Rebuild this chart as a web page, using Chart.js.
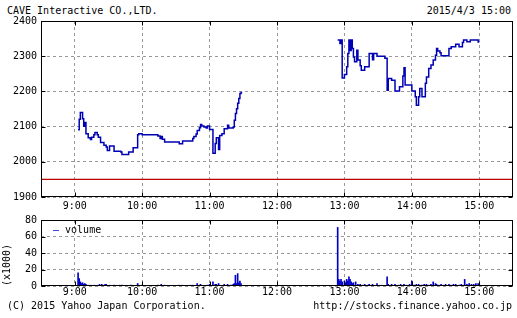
<!DOCTYPE html>
<html><head><meta charset="utf-8">
<script src="https://cdn.jsdelivr.net/npm/chart.js@4"></script>
<style>
body{margin:0;background:#fff;width:517px;height:318px;overflow:hidden;position:relative;font-family:"DejaVu Sans Mono",monospace;font-size:10px;color:#000}
.t{position:absolute;line-height:12px;white-space:pre}
canvas{position:absolute;left:0}
</style></head><body>
<div class="t" style="left:7px;top:5px">CAVE Interactive CO.,LTD.</div>
<div class="t" style="right:6px;top:5px">2015/4/3 15:00</div>
<canvas id="c1" width="517" height="212" style="top:0"></canvas>
<canvas id="c2" width="517" height="100" style="top:205px"></canvas>
<div class="t" style="left:53px;top:224px"><span style="color:#0000cc">—</span> volume</div>
<div class="t" style="left:7px;top:300px">(C) 2015 Yahoo Japan Corporation.</div>
<div class="t" style="right:5px;top:300px">http://stocks.finance.yahoo.co.jp</div>
<script>
const priceTimes = ["9:03","9:04","9:05","9:07","9:08","9:09","9:10","9:12","9:14","9:15","9:17","9:18","9:20","9:21","9:23","9:26","9:28","9:29","9:31","9:35","9:41","9:42","9:48","9:52","9:56","9:57","10:00","10:14","10:16","10:17","10:18","10:20","10:33","10:36","10:45","10:46","10:48","10:49","10:51","10:52","10:53","10:55","10:57","10:58","11:00","11:03","11:05","11:06","11:08","11:09","11:11","11:13","11:16","11:17","11:21","11:22","11:23","11:24","11:25","11:26","11:27","11:28","11:29",
"12:00",
"12:54","12:56","12:57","12:58","13:00","13:02","13:03","13:04","13:05","13:06","13:07","13:08","13:09","13:11","13:12","13:14","13:15","13:18","13:22","13:25","13:26","13:29","13:36","13:38","13:39","13:42","13:45","13:49","13:52","13:53","13:54","14:00","14:03","14:04","14:06","14:07","14:09","14:12","14:13","14:15","14:17","14:19","14:21","14:22","14:23","14:25","14:26","14:33","14:35","14:39","14:42","14:45","14:46","14:49","14:52","14:59","15:00"];
const priceValues = [2091,2121,2140,2122,2101,2112,2080,2068,2063,2070,2077,2083,2077,2070,2055,2047,2042,2032,2045,2030,2028,2021,2028,2040,2077,2080,2077,2073,2066,2072,2064,2056,2051,2059,2066,2072,2079,2089,2097,2106,2102,2099,2096,2102,2092,2024,2052,2068,2035,2075,2080,2094,2104,2096,2099,2118,2137,2151,2166,2180,2194,2197,2197,
null,
2346,2336,2346,2238,2248,2270,2308,2346,2316,2346,2322,2298,2284,2317,2289,2273,2260,2270,2308,2290,2308,2300,2294,2203,2237,2232,2201,2213,2244,2267,2218,2201,2185,2161,2185,2208,2185,2223,2241,2265,2275,2289,2303,2322,2315,2310,2301,2322,2327,2334,2327,2339,2346,2341,2346,2340,2340];
const prevClose = 1950;
const volTimes = ["9:03","9:04","9:05","9:06","9:07","9:08","9:09","9:10","9:12","9:14","9:17","9:22","9:24","9:25","9:27","9:28","9:31","9:35","9:40","9:42","9:50","9:56","9:57","10:00","10:14","10:17","10:20","10:33","10:36","10:43","10:45","10:49","10:51","10:52","10:58","11:00","11:03","11:05","11:06","11:08","11:09","11:13","11:16","11:19","11:21","11:22","11:23","11:24","11:25","11:26","11:27","11:28",
"12:54","12:55","12:56","12:57","12:58","13:00","13:01","13:02","13:03","13:04","13:05","13:06","13:07","13:08","13:10","13:12","13:14","13:16","13:18","13:21","13:22","13:25","13:29","13:33","13:38","13:39","13:42","13:45","13:48","13:50","13:53","13:55","13:58","14:00","14:02","14:04","14:06","14:09","14:11","14:13","14:15","14:17","14:19","14:21","14:22","14:24","14:26","14:28","14:30","14:33","14:35","14:37","14:39","14:42","14:44","14:47","14:49","14:51","14:53","14:55","14:57","14:59","15:00"];
const volValues = [16,9,5,3,4,2,3,2,1,1,1,2,2,1,2,2,1,1,1,1,1,3,1,1,1,2,1,1,1,1,1,3,1,2,1,2,5,2,2,3,1,2,2,1,2,3,13,3,15,4,6,3,
71,8,6,8,5,6,4,8,6,11,8,5,3,4,5,2,2,1,2,1,2,2,3,1,11,2,2,2,1,2,2,1,2,6,1,2,2,1,2,2,1,2,5,3,2,1,2,1,2,2,1,2,2,1,2,8,2,3,2,2,3,3,2];
const hourTicks = ["9:00","10:00","11:00","12:00","13:00","14:00","15:00"];
const priceTicks = [1900,2000,2100,2200,2300,2400];
const volTicks = [0,20,40,60,80];

function toMin(s){const p=s.split(':').map(Number);return p[0]*60+p[1];}
const hourVals = hourTicks.map(toMin);
const font = {family:'DejaVu Sans Mono', size:10};
const fmt = v => Math.floor(v/60)+':'+String(v%60).padStart(2,'0');
const plain = v => String(v);

const frame = {id:'frame', afterDraw(chart){
  const {ctx, chartArea:a, scales} = chart;
  ctx.save(); ctx.strokeStyle='#000'; ctx.lineWidth=1; ctx.setLineDash([]);
  const L=Math.round(a.left)+0.5, R=Math.round(a.right)-0.5, T=Math.round(a.top)+0.5, B=Math.round(a.bottom)-0.5;
  ctx.strokeRect(L,T,R-L,B-T);
  ctx.beginPath();
  scales.x.ticks.forEach(t=>{const px=Math.round(scales.x.getPixelForValue(t.value))+0.5;ctx.moveTo(px,T);ctx.lineTo(px,T+4);ctx.moveTo(px,B);ctx.lineTo(px,B-4);});
  scales.y.ticks.forEach(t=>{const py=Math.round(scales.y.getPixelForValue(t.value))+0.5;ctx.moveTo(L,py);ctx.lineTo(L+4,py);ctx.moveTo(R,py);ctx.lineTo(R-4,py);});
  ctx.stroke(); ctx.restore();
}};

function xScale(h, pad){
  return {type:'linear', min:510, max:930, offset:false,
    afterBuildTicks:s=>{s.ticks=hourVals.map(v=>({value:v}));},
    afterFit:s=>{s.height=h;},
    ticks:{callback:fmt, font, color:'#000', padding:pad, maxRotation:0, autoSkip:false},
    grid:{color:'#999', drawTicks:false, lineWidth:1, offset:false},
    border:{display:false, dash:[3,3]}};
}

new Chart(document.getElementById('c1'), {
  type:'line',
  data:{datasets:[
    {data:priceTimes.map((t,i)=>({x:toMin(t), y:priceValues[i]})), borderColor:'#0000b4', borderWidth:1.5, stepped:true, pointRadius:0, spanGaps:false, fill:false},
    {data:[{x:510,y:prevClose},{x:930,y:prevClose}], borderColor:'#c00000', borderWidth:1.2, pointRadius:0, fill:false}
  ]},
  options:{responsive:false, animation:false, devicePixelRatio:1,
    layout:{padding:{top:21,right:4,left:0,bottom:0}},
    plugins:{legend:{display:false}, tooltip:{enabled:false}},
    scales:{
      x:xScale(15,3),
      y:{min:1900,max:2400,
        afterBuildTicks:s=>{s.ticks=priceTicks.map(v=>({value:v}));},
        afterFit:s=>{s.width=41;},
        ticks:{font, color:'#000', padding:4, callback:plain},
        grid:{color:'#999', drawTicks:false},
        border:{display:false, dash:[3,3]}}
    }},
  plugins:[frame]
});

new Chart(document.getElementById('c2'), {
  type:'bar',
  data:{datasets:[
    {data:volTimes.map((t,i)=>({x:toMin(t), y:volValues[i]})), backgroundColor:'#0000cc', barThickness:1, borderWidth:0}
  ]},
  options:{responsive:false, animation:false, devicePixelRatio:1,
    layout:{padding:{top:15,right:4,left:0,bottom:0}},
    plugins:{legend:{display:false}, tooltip:{enabled:false}},
    scales:{
      x:xScale(19,0),
      y:{min:0,max:80,
        afterBuildTicks:s=>{s.ticks=volTicks.map(v=>({value:v}));},
        afterFit:s=>{s.width=41;},
        title:{display:true, text:'(x1000)', font, color:'#000', align:'start', padding:{top:1,bottom:0}},
        ticks:{font, color:'#000', padding:4, callback:plain},
        grid:{color:'#999', drawTicks:false},
        border:{display:false, dash:[3,3]}}
    }},
  plugins:[frame]
});
</script>
</body></html>
